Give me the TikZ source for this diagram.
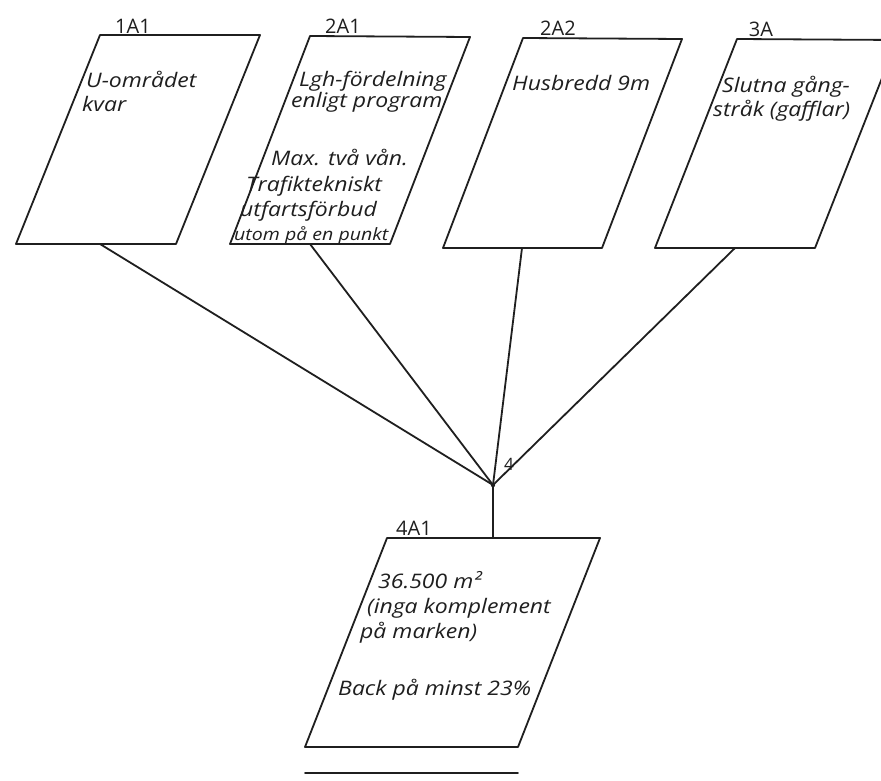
\documentclass[tikz,border=0pt]{standalone}
\usepackage{fontspec}
\setmainfont{Open Sans}
\newfontfamily\handfont[FakeStretch=1.15]{Open Sans}
\begin{document}
\begin{tikzpicture}[x=1pt,y=-1pt,
  edge/.style={line width=1.8pt, line cap=round, line join=round, black!88},
  hand/.style={font=\handfont\itshape\fontsize{20}{22}\selectfont, inner sep=0pt, anchor=base west, text=black!88},
  smallhand/.style={hand, font=\handfont\itshape\fontsize{17}{19}\selectfont},
  boxlabel/.style={font=\fontsize{20}{22}\selectfont, inner sep=0pt, anchor=base, text=black!88}]
\useasboundingbox[fill=white] (0,0) rectangle (881,781);
\clip (0,0) rectangle (881,781);

% corners of the five slanted boxes
\coordinate (a-tl) at (100,35);  \coordinate (a-tr) at (260,35);
\coordinate (a-br) at (176,244); \coordinate (a-bl) at (16,244);
\coordinate (b-tl) at (310,36);  \coordinate (b-tr) at (470,37);
\coordinate (b-br) at (390,244); \coordinate (b-bl) at (230,244);
\coordinate (c-tl) at (523,38);  \coordinate (c-tr) at (682,39);
\coordinate (c-br) at (602,248); \coordinate (c-bl) at (443,248);
\coordinate (d-tl) at (737,39);  \coordinate (d-tr) at (897,40);
\coordinate (d-br) at (815,248); \coordinate (d-bl) at (655,248);
\coordinate (e-tl) at (387,538); \coordinate (e-tr) at (600,538);
\coordinate (e-br) at (518,747); \coordinate (e-bl) at (305,747);

\foreach \b in {a,b,c,d,e}
  \draw[edge] (\b-tl) -- (\b-tr) -- (\b-br) -- (\b-bl) -- cycle;

% attachment points and the junction
\coordinate (a-out) at (100,244);
\coordinate (b-out) at (310,244);
\coordinate (c-out) at (522,248);
\coordinate (d-out) at (735,248);
\coordinate (e-in)  at (493,538);
\coordinate (hub)   at (493,485);

\draw[edge] (a-out) -- (hub);
\draw[edge] (b-out) -- (hub);
\draw[edge] (c-out) -- (hub);
\draw[edge] (d-out) -- (hub);
\draw[edge] (hub) -- (e-in);
\fill[black!88] (hub) circle (2.2pt);

% rule under the bottom box
\coordinate (rule-l) at (305,773);
\coordinate (rule-r) at (518,773);
\draw[edge] (rule-l) -- (rule-r);

% box codes
\node[boxlabel] (la) at (133,34) {1A1};
\node[boxlabel] (lb) at (343,34) {2A1};
\node[boxlabel] (lc) at (558,36) {2A2};
\node[boxlabel] (ld) at (761,37) {3A};
\node[boxlabel] (le) at (414,535) {4A1};
\node[boxlabel, font=\fontsize{17}{18}\selectfont] (lhub) at (509,470) {4};

% box contents
\node[hand] (ta1) at (86,88)  {U-området};
\node[hand] (ta2) at (82,112) {kvar};

\node[hand] (tb1) at (299,87)  {Lgh-fördelning};
\node[hand] (tb2) at (291,108) {enligt program};
\node[hand] (tb3) at (271,166) {Max. två vån.};
\node[hand] (tb4) at (246,191) {Trafiktekniskt};
\node[hand] (tb5) at (240,216) {utfartsförbud};
\node[smallhand] (tb6) at (234,240) {utom på en punkt};

\node[hand] (tc1) at (512,91) {Husbredd 9m};

\node[hand] (td1) at (722,93)  {Slutna gång-};
\node[hand] (td2) at (713,117) {stråk (gafflar)};

\node[hand] (te1) at (378,588) {36.500 m²};
\node[hand] (te2) at (367,613) {(inga komplement};
\node[hand] (te3) at (360,638) {på marken)};
\node[hand] (te4) at (338,695) {Back på minst 23\%};
\end{tikzpicture}
\end{document}
